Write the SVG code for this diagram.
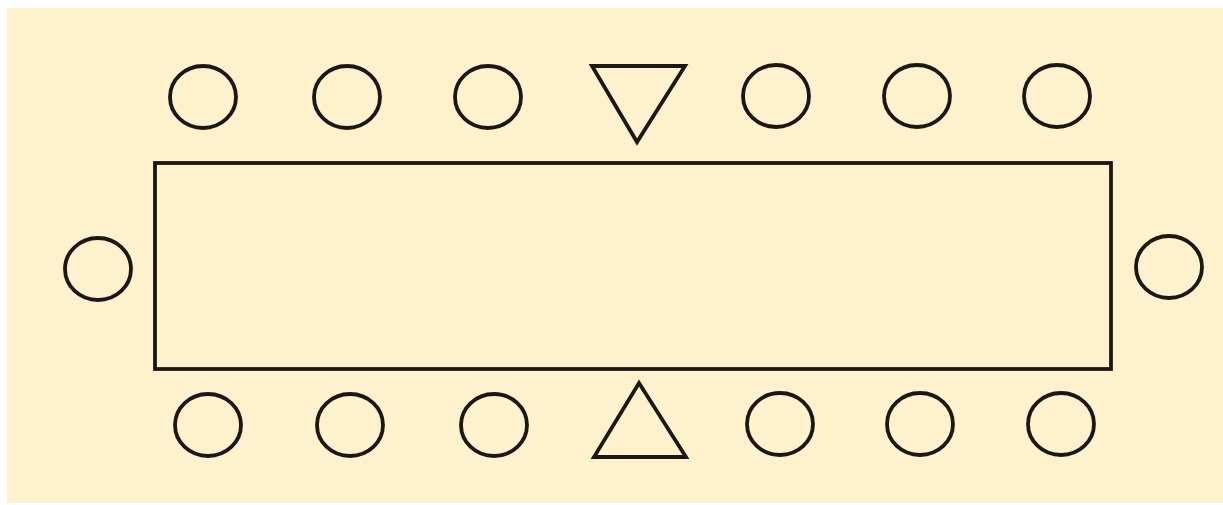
<svg xmlns="http://www.w3.org/2000/svg" width="1223" height="505" viewBox="0 0 1223 505">
<style>
.s{fill:none;stroke:#1c1712;stroke-width:3.8;stroke-linejoin:miter}
</style>
<defs>
<ellipse id="seat" cx="0" cy="0" rx="33" ry="31" class="s"/>
</defs>
<rect x="0" y="0" width="1223" height="505" fill="#ffffff"/>
<rect x="7" y="8" width="1216" height="495" fill="#fdf2cd"/>
<g id="table"><rect x="155" y="163" width="956" height="206" class="s"/></g>
<g id="top-seats">
<g id="t1"><use href="#seat" x="203" y="97"/></g>
<g id="t2"><use href="#seat" x="347" y="97"/></g>
<g id="t3"><use href="#seat" x="488" y="97"/></g>
<g id="t-head"><polygon points="592,66 685,66 637,142" class="s"/></g>
<g id="t5"><use href="#seat" x="776" y="96"/></g>
<g id="t6"><use href="#seat" x="917" y="96"/></g>
<g id="t7"><use href="#seat" x="1057" y="96"/></g>
</g>
<g id="side-seats">
<g id="left"><use href="#seat" x="98" y="269"/></g>
<g id="right"><use href="#seat" x="1169" y="267"/></g>
</g>
<g id="bottom-seats">
<g id="b1"><use href="#seat" x="208" y="425"/></g>
<g id="b2"><use href="#seat" x="350" y="425"/></g>
<g id="b3"><use href="#seat" x="494" y="425"/></g>
<g id="b-head"><polygon points="639,383 686,457 594,457" class="s"/></g>
<g id="b5"><use href="#seat" x="780" y="424"/></g>
<g id="b6"><use href="#seat" x="920" y="424"/></g>
<g id="b7"><use href="#seat" x="1061" y="424"/></g>
</g>
<g id="connectors"></g>
</svg>
